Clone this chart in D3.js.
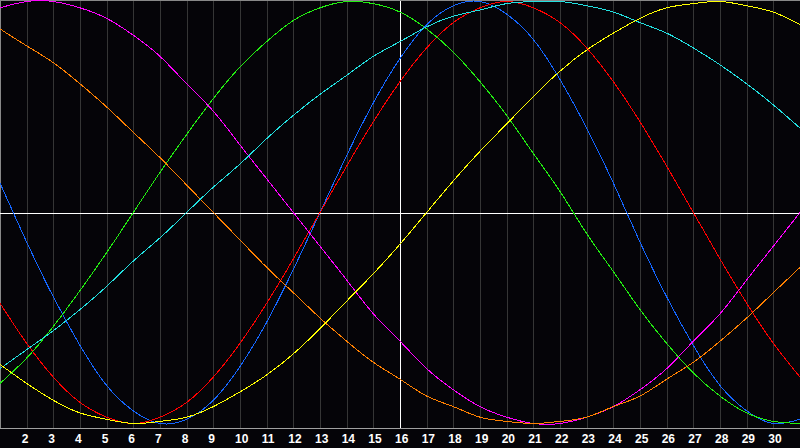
<!DOCTYPE html>
<html>
<head>
<meta charset="utf-8">
<script src="https://cdn.jsdelivr.net/npm/d3@7"></script>
<style>
  html, body { margin: 0; padding: 0; background: #050408; }
  svg { display: block; }
</style>
</head>
<body>
<div class="chart"></div>
<script>
// days of the month shown along the bottom
const days = d3.range(1, 32);
const tickDays = d3.range(2, 31);
const markedDay = 16;

// curve values per day, in percent (-100 .. 100)
const blueValues = [14, -14, -40, -63, -82, -94, -100, -98, -89, -73, -52, -27, 0, 27, 52, 73,
    89, 98, 100, 94, 82, 63, 40, 14, -14, -40, -63, -82, -94, -100, -98];
const redValues = [-43, -62, -78, -90, -97, -100, -97, -90, -78, -62, -43, -22, 0, 22, 43, 62,
    78, 90, 97, 100, 97, 90, 78, 62, 43, 22, 0, -22, -43, -62, -78];
const greenValues = [-81, -69, -54, -37, -19, 0, 19, 37, 54, 69, 81, 91, 97, 100, 99, 95,
    87, 76, 62, 46, 28, 10, -10, -28, -46, -62, -76, -87, -95, -99, -100];
const magentaValues = [97, 100, 100, 97, 92, 84, 74, 61, 48, 32, 16, 0, -16, -32, -48, -61,
    -74, -84, -92, -97, -100, -100, -97, -92, -84, -74, -61, -48, -32, -16, 0];
const orangeValues = [87, 79, 71, 61, 50, 38, 26, 13, 0, -13, -26, -38, -50, -61, -71, -79,
    -87, -92, -97, -99, -100, -99, -97, -92, -87, -79, -71, -61, -50, -38, -26];
const cyanValues = [-74, -65, -56, -46, -35, -23, -12, 0, 12, 23, 35, 46, 56, 65, 74, 81,
    88, 93, 96, 99, 100, 100, 98, 95, 90, 85, 78, 70, 61, 51, 40];
const yellowValues = [-72, -81, -89, -95, -98, -100, -99, -97, -92, -85, -77, -67, -55, -42, -29, -15,
    0, 15, 29, 42, 55, 67, 77, 85, 92, 97, 99, 100, 98, 95, 89];

const series = [
    {color: "#1466ff", values: blueValues},
    {color: "#ff0000", values: redValues},
    {color: "#22ee11", values: greenValues},
    {color: "#ff00ff", values: magentaValues},
    {color: "#ff8000", values: orangeValues},
    {color: "#22e0e0", values: cyanValues},
    {color: "#ffff00", values: yellowValues}
];

const width = 800, height = 448;
const plotBottom = 428;

const svg = d3.select(".chart").append("svg")
    .attr("width", width)
    .attr("height", height);

svg.append("rect")
    .attr("width", width)
    .attr("height", height)
    .attr("fill", "#050408");

const x = d3.scaleLinear().domain([1, 31]).range([0, width]);
const y = d3.scaleLinear().domain([-100, 100]).range([423.5, 1.5]);

// vertical day grid
svg.append("g")
    .selectAll("line")
    .data(tickDays)
    .enter()
    .append("line")
    .attr("x1", d => Math.round(x(d)) + 0.5)
    .attr("x2", d => Math.round(x(d)) + 0.5)
    .attr("y1", 0)
    .attr("y2", plotBottom)
    .attr("stroke", d => d == markedDay ? "#ffffff" : "#353535")
    .attr("stroke-width", 1);

// frame: top, left and the base line
svg.append("line")
    .attr("x1", 0).attr("x2", width).attr("y1", 0.5).attr("y2", 0.5)
    .attr("stroke", "#888888");
svg.append("line")
    .attr("x1", 0.5).attr("x2", 0.5).attr("y1", 0).attr("y2", plotBottom)
    .attr("stroke", "#888888");
svg.append("line")
    .attr("x1", 0).attr("x2", width).attr("y1", plotBottom + 0.5).attr("y2", plotBottom + 0.5)
    .attr("stroke", "#a0a0a0");

// zero line
svg.append("line")
    .attr("x1", 0).attr("x2", width)
    .attr("y1", Math.round(y(0)) + 0.5).attr("y2", Math.round(y(0)) + 0.5)
    .attr("stroke", "#ffffff");

const line = d3.line()
    .x((d, i) => x(days[i]))
    .y(d => y(d))
    .curve(d3.curveNatural);

svg.append("g")
    .selectAll("path")
    .data(series)
    .enter()
    .append("path")
    .attr("d", d => line(d.values))
    .attr("fill", "none")
    .attr("stroke", d => d.color)
    .attr("stroke-width", 1)
    .attr("shape-rendering", "crispEdges");

// day labels
const axis = d3.axisBottom(x)
    .tickValues(tickDays)
    .tickSize(0)
    .tickFormat(d3.format("d"));

const axisG = svg.append("g")
    .attr("transform", "translate(0," + plotBottom + ")")
    .call(axis);

axisG.select(".domain").remove();
axisG.selectAll("text")
    .attr("fill", "#ffffff")
    .attr("text-anchor", "start")
    .attr("dx", -5.5)
    .attr("y", 0)
    .attr("dy", 14.5)
    .style("font-family", "'Liberation Sans', Arial, sans-serif")
    .style("font-weight", "bold")
    .style("font-size", "12px");
</script>
</body>
</html>
